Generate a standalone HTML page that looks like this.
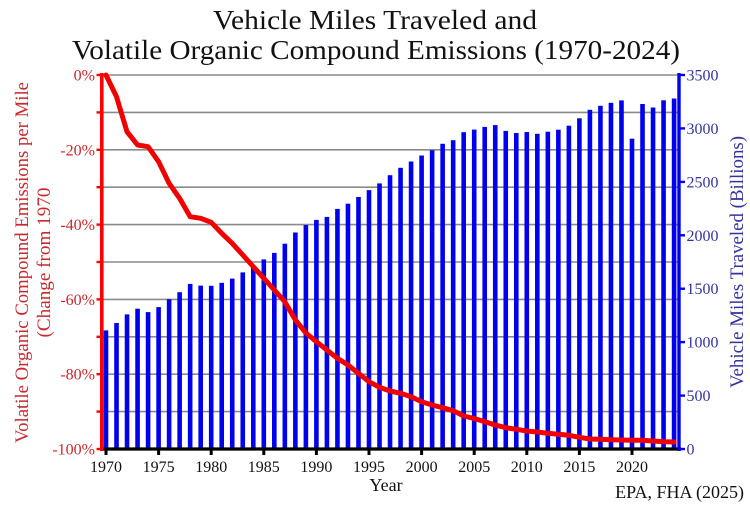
<!DOCTYPE html>
<html><head><meta charset="utf-8"><style>
html,body{margin:0;padding:0;background:#fff;}
svg{display:block;}
text{font-family:"Liberation Serif","Times New Roman",serif;}
</style></head><body>
<svg width="750" height="507" viewBox="0 0 750 507" xmlns="http://www.w3.org/2000/svg">
<rect width="750" height="507" fill="#fff"/>
<!-- title -->
<text x="375" y="29" font-size="27" text-anchor="middle" textLength="324" lengthAdjust="spacingAndGlyphs" fill="#111">Vehicle Miles Traveled and</text>
<text x="376" y="59" font-size="27" text-anchor="middle" textLength="608" lengthAdjust="spacingAndGlyphs" fill="#111">Volatile Organic Compound Emissions (1970-2024)</text>
<!-- gridlines -->
<g stroke="#8a8a8a" stroke-width="1.6">
<line x1="101" y1="75" x2="679" y2="75"/>
<line x1="101" y1="112.4" x2="679" y2="112.4"/>
<line x1="101" y1="149.8" x2="679" y2="149.8"/>
<line x1="101" y1="187.2" x2="679" y2="187.2"/>
<line x1="101" y1="224.6" x2="679" y2="224.6"/>
<line x1="101" y1="262" x2="679" y2="262"/>
<line x1="101" y1="299.4" x2="679" y2="299.4"/>
<line x1="101" y1="336.8" x2="679" y2="336.8"/>
<line x1="101" y1="374.2" x2="679" y2="374.2"/>
<line x1="101" y1="411.6" x2="679" y2="411.6"/>
</g>
<!-- bars -->
<g fill="#0000ee">
<rect x="103.7" y="330.4" width="4.6" height="118.6"/>
<rect x="114.22" y="323.0" width="4.6" height="126"/>
<rect x="124.74" y="314.4" width="4.6" height="134.6"/>
<rect x="135.26" y="308.7" width="4.6" height="140.3"/>
<rect x="145.78" y="312.1" width="4.6" height="136.9"/>
<rect x="156.3" y="307.1" width="4.6" height="141.9"/>
<rect x="166.82" y="299.2" width="4.6" height="149.8"/>
<rect x="177.34" y="292.2" width="4.6" height="156.8"/>
<rect x="187.86" y="283.9" width="4.6" height="165.1"/>
<rect x="198.38" y="285.6" width="4.6" height="163.4"/>
<rect x="208.9" y="285.8" width="4.6" height="163.2"/>
<rect x="219.42" y="282.8" width="4.6" height="166.2"/>
<rect x="229.94" y="278.6" width="4.6" height="170.4"/>
<rect x="240.46" y="272.4" width="4.6" height="176.6"/>
<rect x="250.98" y="266.3" width="4.6" height="182.7"/>
<rect x="261.5" y="259.4" width="4.6" height="189.6"/>
<rect x="272.02" y="252.9" width="4.6" height="196.1"/>
<rect x="282.54" y="243.7" width="4.6" height="205.3"/>
<rect x="293.06" y="232.5" width="4.6" height="216.5"/>
<rect x="303.58" y="225.0" width="4.6" height="224"/>
<rect x="314.1" y="219.9" width="4.6" height="229.1"/>
<rect x="324.62" y="216.9" width="4.6" height="232.1"/>
<rect x="335.14" y="208.9" width="4.6" height="240.1"/>
<rect x="345.66" y="203.7" width="4.6" height="245.3"/>
<rect x="356.18" y="197.0" width="4.6" height="252"/>
<rect x="366.7" y="190.1" width="4.6" height="258.9"/>
<rect x="377.22" y="183.4" width="4.6" height="265.6"/>
<rect x="387.74" y="175.2" width="4.6" height="273.8"/>
<rect x="398.26" y="167.8" width="4.6" height="281.2"/>
<rect x="408.78" y="161.5" width="4.6" height="287.5"/>
<rect x="419.3" y="155.5" width="4.6" height="293.5"/>
<rect x="429.82" y="150.2" width="4.6" height="298.8"/>
<rect x="440.34" y="143.8" width="4.6" height="305.2"/>
<rect x="450.86" y="140.2" width="4.6" height="308.8"/>
<rect x="461.38" y="132.2" width="4.6" height="316.8"/>
<rect x="471.9" y="129.6" width="4.6" height="319.4"/>
<rect x="482.42" y="126.9" width="4.6" height="322.1"/>
<rect x="492.94" y="125.1" width="4.6" height="323.9"/>
<rect x="503.46" y="130.9" width="4.6" height="318.1"/>
<rect x="513.98" y="133.0" width="4.6" height="316"/>
<rect x="524.5" y="132.0" width="4.6" height="317"/>
<rect x="535.02" y="133.8" width="4.6" height="315.2"/>
<rect x="545.54" y="131.7" width="4.6" height="317.3"/>
<rect x="556.06" y="129.7" width="4.6" height="319.3"/>
<rect x="566.58" y="125.7" width="4.6" height="323.3"/>
<rect x="577.1" y="118.3" width="4.6" height="330.7"/>
<rect x="587.62" y="109.8" width="4.6" height="339.2"/>
<rect x="598.14" y="105.8" width="4.6" height="343.2"/>
<rect x="608.66" y="102.8" width="4.6" height="346.2"/>
<rect x="619.18" y="100.4" width="4.6" height="348.6"/>
<rect x="629.7" y="138.7" width="4.6" height="310.3"/>
<rect x="640.22" y="104.0" width="4.6" height="345"/>
<rect x="650.74" y="107.5" width="4.6" height="341.5"/>
<rect x="661.26" y="100.3" width="4.6" height="348.7"/>
<rect x="671.78" y="98.5" width="4.6" height="350.5"/>
</g>
<!-- bottom axis -->
<line x1="100" y1="449" x2="681" y2="449" stroke="#000" stroke-width="3.2"/>
<g stroke="#000" stroke-width="3">
<line x1="106" y1="449" x2="106" y2="455"/>
<line x1="158.6" y1="449" x2="158.6" y2="455"/>
<line x1="211.2" y1="449" x2="211.2" y2="455"/>
<line x1="263.8" y1="449" x2="263.8" y2="455"/>
<line x1="316.4" y1="449" x2="316.4" y2="455"/>
<line x1="369" y1="449" x2="369" y2="455"/>
<line x1="421.6" y1="449" x2="421.6" y2="455"/>
<line x1="474.2" y1="449" x2="474.2" y2="455"/>
<line x1="526.8" y1="449" x2="526.8" y2="455"/>
<line x1="579.4" y1="449" x2="579.4" y2="455"/>
<line x1="632" y1="449" x2="632" y2="455"/>
</g>
<g font-size="16" fill="#111" text-anchor="middle">
<text x="106" y="472">1970</text>
<text x="158.6" y="472">1975</text>
<text x="211.2" y="472">1980</text>
<text x="263.8" y="472">1985</text>
<text x="316.4" y="472">1990</text>
<text x="369" y="472">1995</text>
<text x="421.6" y="472">2000</text>
<text x="474.2" y="472">2005</text>
<text x="526.8" y="472">2010</text>
<text x="579.4" y="472">2015</text>
<text x="632" y="472">2020</text>
</g>
<text x="386" y="491" font-size="18" text-anchor="middle" fill="#111">Year</text>
<text x="744" y="498" font-size="18" text-anchor="end" fill="#111">EPA, FHA (2025)</text>
<!-- left axis -->
<line x1="101.8" y1="73" x2="101.8" y2="451" stroke="#ff0000" stroke-width="3.6"/>
<g stroke="#ff0000" stroke-width="2.4">
<line x1="96.5" y1="75" x2="101" y2="75"/>
<line x1="96.5" y1="112.4" x2="101" y2="112.4"/>
<line x1="96.5" y1="149.8" x2="101" y2="149.8"/>
<line x1="96.5" y1="187.2" x2="101" y2="187.2"/>
<line x1="96.5" y1="224.6" x2="101" y2="224.6"/>
<line x1="96.5" y1="262" x2="101" y2="262"/>
<line x1="96.5" y1="299.4" x2="101" y2="299.4"/>
<line x1="96.5" y1="336.8" x2="101" y2="336.8"/>
<line x1="96.5" y1="374.2" x2="101" y2="374.2"/>
<line x1="96.5" y1="411.6" x2="101" y2="411.6"/>
<line x1="96.5" y1="449" x2="101" y2="449"/>
</g>
<g font-size="16" fill="#c8282e" text-anchor="end">
<text x="95" y="80.5">0%</text>
<text x="95" y="155.3">-20%</text>
<text x="95" y="230.1">-40%</text>
<text x="95" y="304.9">-60%</text>
<text x="95" y="379.7">-80%</text>
<text x="95" y="454.5">-100%</text>
</g>
<text transform="translate(28,262.5) rotate(-90)" font-size="19" text-anchor="middle" textLength="361" lengthAdjust="spacingAndGlyphs" fill="#c8282e">Volatile Organic Compound Emissions per Mile</text>
<text transform="translate(50,262.5) rotate(-90)" font-size="19" text-anchor="middle" textLength="150" lengthAdjust="spacingAndGlyphs" fill="#c8282e">(Change from 1970</text>
<!-- right axis -->
<line x1="679" y1="73" x2="679" y2="451" stroke="#0000ee" stroke-width="3.4"/>
<g stroke="#0000ee" stroke-width="2.4">
<line x1="680" y1="75" x2="685" y2="75"/>
<line x1="680" y1="128.4" x2="685" y2="128.4"/>
<line x1="680" y1="181.9" x2="685" y2="181.9"/>
<line x1="680" y1="235.3" x2="685" y2="235.3"/>
<line x1="680" y1="288.7" x2="685" y2="288.7"/>
<line x1="680" y1="342.1" x2="685" y2="342.1"/>
<line x1="680" y1="395.6" x2="685" y2="395.6"/>
<line x1="680" y1="449" x2="685" y2="449"/>
</g>
<g font-size="16" fill="#33339c">
<text x="686.5" y="80.5">3500</text>
<text x="686.5" y="133.9">3000</text>
<text x="686.5" y="187.4">2500</text>
<text x="686.5" y="240.8">2000</text>
<text x="686.5" y="294.2">1500</text>
<text x="686.5" y="347.6">1000</text>
<text x="686.5" y="401.1">500</text>
<text x="686.5" y="454.5">0</text>
</g>
<text transform="translate(743,262) rotate(-90)" font-size="19" text-anchor="middle" textLength="252" lengthAdjust="spacingAndGlyphs" fill="#33339c">Vehicle Miles Traveled (Billions)</text>
<!-- red line -->
<polyline fill="none" stroke="#f00000" stroke-width="5" stroke-linejoin="round" stroke-linecap="round" points="106,75 116.5,96.7 127,131.7 137.6,145 148.1,146.7 158.6,161.7 169.1,183.3 179.6,198.3 190.2,216.7 200.7,218.3 211.2,222.3 221.7,233.3 232.2,243.3 242.8,255 253.3,266.7 263.8,278.3 274.3,290 284.8,301.7 295.4,320 305.9,333 316.4,341.7 326.9,350 337.4,358.3 348,365 358.5,373.3 369,381.7 379.5,387.3 390,391 400.6,393.3 411.1,396.7 421.6,401.7 432.1,405 442.6,407.7 453.2,410.7 463.7,416 474.2,418.5 484.7,421.7 495.2,425 505.8,427.7 516.3,429.3 526.8,431 537.3,432 547.8,433.3 558.4,434.3 568.9,435.3 579.4,437.3 589.9,439 600.4,439.3 611,439.7 621.5,440 632,440.3 642.5,440.3 653,441 663.6,441.7 674.1,442"/>
</svg>
</body></html>
